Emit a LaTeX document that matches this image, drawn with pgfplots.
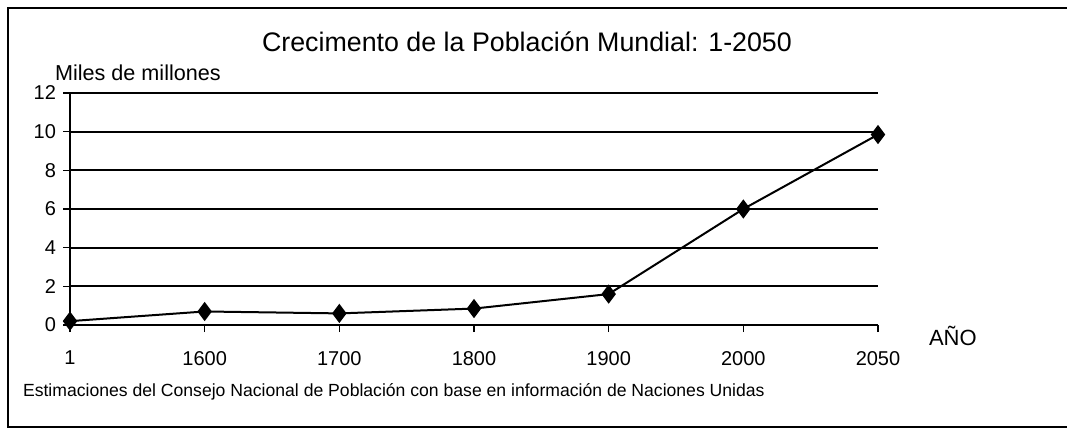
\documentclass[border=0pt]{standalone}
\usepackage{pgfplots}
\pgfplotsset{compat=1.18}
\usepackage{fontspec}
\setmainfont{Liberation Sans}
\begin{document}
\begin{tikzpicture}
\path[use as bounding box] (0pt,0pt) rectangle (533.5pt,223.5pt);
% frame
\draw[line width=1pt] (533.5pt,219.5pt) -- (4pt,219.5pt) -- (4pt,10pt) -- (533.5pt,10pt);
\begin{axis}[
  at={(35pt,61pt)}, anchor=origin,
  scale only axis,
  width=404pt, height=116pt,
  xmin=0, xmax=6, ymin=0, ymax=12,
  xtick={0,...,6},
  xticklabels={1,1600,1700,1800,1900,2000,2050},
  ytick={0,2,...,12},
  axis x line*=bottom, axis y line*=left,
  axis line style={line width=1pt, -},
  ymajorgrids, grid style={black, line width=1pt},
  tick style={black, line width=0.8pt},
  tick align=outside, major tick length=3.5pt,
  /pgf/number format/assume math mode=true,
  ticklabel style={font=\fontsize{10}{12}\selectfont},
  xticklabel style={yshift=-6pt},
  yticklabel style={xshift=0pt},
  clip=false,
]
\addplot[black, line width=1pt, mark=diamond*, mark size=4pt, mark options={fill=black}]
coordinates {(0,0.2) (1,0.7) (2,0.6) (3,0.85) (4,1.6) (5,6.0) (6,9.85)};
\end{axis}
\node[font=\fontsize{13.4}{15}\selectfont] at (263.5pt,202.5pt) {Crecimento de la Población Mundial: 1-2050};
\node[font=\fontsize{10.8}{12}\selectfont, anchor=base west] at (24pt,183.5pt) {Miles de millones};
\node[font=\fontsize{11}{12}\selectfont, anchor=base west] at (461pt,51pt) {AÑO};
\node[font=\fontsize{8.8}{10}\selectfont, anchor=base west] at (8pt,25.5pt) {Estimaciones del Consejo Nacional de Población con base en información de Naciones Unidas};
\end{tikzpicture}
\end{document}
